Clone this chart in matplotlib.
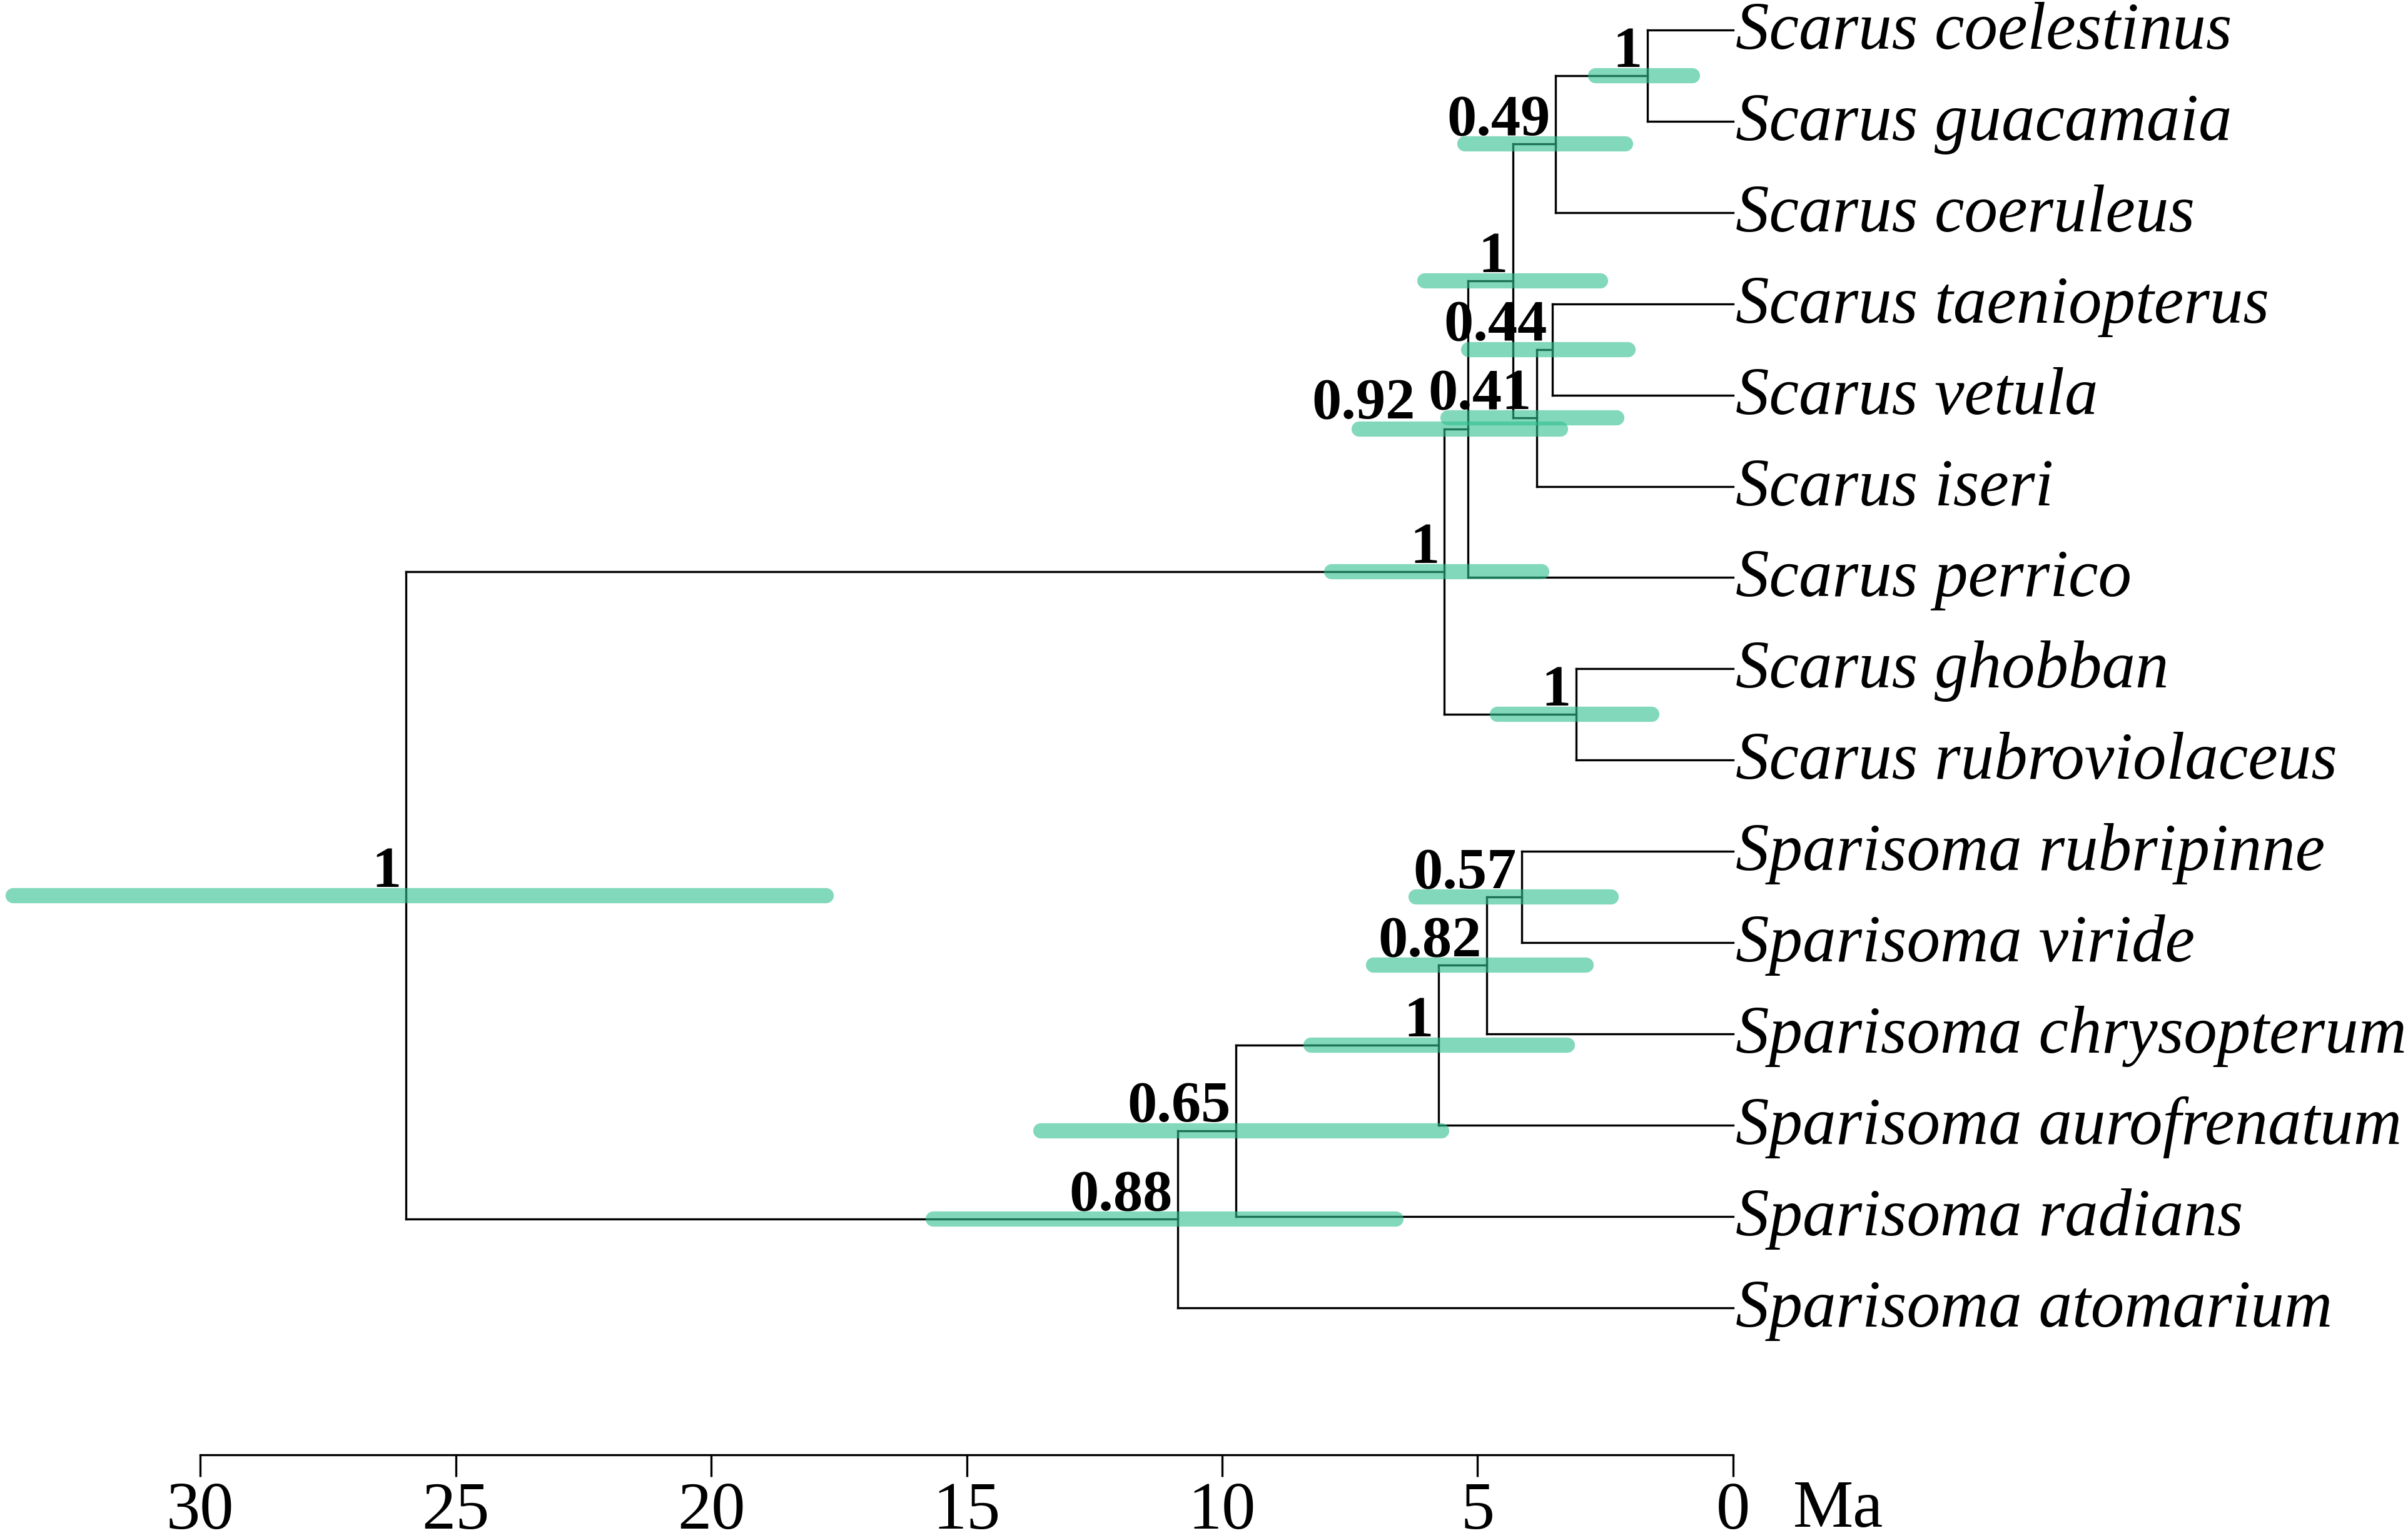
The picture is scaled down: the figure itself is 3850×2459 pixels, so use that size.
import matplotlib.pyplot as plt

# tips, top to bottom
tips = ["Scarus coelestinus", "Scarus guacamaia", "Scarus coeruleus",
        "Scarus taeniopterus", "Scarus vetula", "Scarus iseri", "Scarus perrico",
        "Scarus ghobban", "Scarus rubroviolaceus", "Sparisoma rubripinne",
        "Sparisoma viride", "Sparisoma chrysopterum", "Sparisoma aurofrenatum",
        "Sparisoma radians", "Sparisoma atomarium"]

# internal nodes (ages in Ma, 95% HPD bars, posterior support)
nodes = ["A", "B", "C", "D", "E", "F", "G", "H", "I", "J", "K", "L", "M", "root"]
children = [("Scarus coelestinus", "Scarus guacamaia"),
            ("A", "Scarus coeruleus"),
            ("B", "D"),
            ("E", "Scarus iseri"),
            ("Scarus taeniopterus", "Scarus vetula"),
            ("C", "Scarus perrico"),
            ("F", "H"),
            ("Scarus ghobban", "Scarus rubroviolaceus"),
            ("Sparisoma rubripinne", "Sparisoma viride"),
            ("I", "Sparisoma chrysopterum"),
            ("J", "Sparisoma aurofrenatum"),
            ("K", "Sparisoma radians"),
            ("L", "Sparisoma atomarium"),
            ("G", "M")]
ages = [1.68, 3.48, 4.31, 3.84, 3.54, 5.19, 5.65, 3.07, 4.14, 4.82, 5.77, 9.73, 10.87, 25.97]
hpd_old = [2.69, 5.25, 6.03, 5.58, 5.18, 7.32, 7.86, 4.61, 6.20, 7.04, 8.26, 13.55, 15.66, 33.66]
hpd_young = [0.79, 2.10, 2.59, 2.27, 2.05, 3.38, 3.74, 1.59, 2.38, 2.87, 3.24, 5.70, 6.60, 17.75]
support = ["1", "0.49", "1", "0.41", "0.44", "0.92", "1", "1", "0.57", "0.82", "1",
           "0.65", "0.88", "1"]

ticks = [30, 25, 20, 15, 10, 5, 0]

# label nudges in pixels (default: right edge of label just left of node)
label_shift = {"F": (-84, 17)}

age = dict(zip(nodes, ages))
for t in tips:
    age[t] = 0.0
kids = dict(zip(nodes, children))

ypos = {t: i for i, t in enumerate(tips)}


def get_y(n):
    if n not in ypos:
        ypos[n] = sum(get_y(c) for c in kids[n]) / 2.0
    return ypos[n]


for n in nodes:
    get_y(n)

plt.rcParams["font.family"] = ["Liberation Serif", "DejaVu Serif"]

fig = plt.figure(figsize=(38.5, 24.59), dpi=100)
ax = fig.add_axes([0, 0, 1, 1])
ax.set_xlim(33.92, -13.21)
ax.set_ylim(16.525, -0.329)

lw = 2.4
bar_color = "#2fbf8f"

for n in nodes:
    ys = [ypos[c] for c in kids[n]]
    ax.plot([age[n], age[n]], [min(ys), max(ys)], color="black", lw=lw, zorder=2,
            solid_capstyle="projecting")
    for c in kids[n]:
        ax.plot([age[n], age[c]], [ypos[c], ypos[c]], color="black", lw=lw, zorder=2,
                solid_capstyle="projecting")

# HPD bars
for n, lo, hi in zip(nodes, hpd_old, hpd_young):
    ax.plot([lo, hi], [ypos[n], ypos[n]], color=bar_color, alpha=0.6, lw=17.5,
            solid_capstyle="round", zorder=3)

# posterior labels
for n, s in zip(nodes, support):
    dx, dy = label_shift.get(n, (-8, 14))
    ax.annotate(s, xy=(age[n], ypos[n]), xytext=(dx, dy), textcoords="offset pixels",
                ha="right", va="baseline", fontsize=68, fontweight="bold", zorder=4)

# tip labels
for t in tips:
    ax.annotate(t, xy=(0, ypos[t]), xytext=(4, -30), textcoords="offset pixels",
                ha="left", va="baseline", fontsize=77, fontstyle="italic")

# time axis
for side in ["top", "left", "right"]:
    ax.spines[side].set_visible(False)
ax.spines["bottom"].set_position(("data", 15.61))
ax.spines["bottom"].set_bounds(0, 30)
ax.spines["bottom"].set_linewidth(lw)
ax.set_xticks(ticks)
ax.set_xticklabels([str(t) for t in ticks])
ax.set_yticks([])
ax.tick_params(axis="x", direction="out", length=25, width=lw, labelsize=78, pad=6)
ax.text(-1.175, 16.40, "Ma", fontsize=78, ha="left", va="baseline")

fig.savefig("out.png", dpi=100)
